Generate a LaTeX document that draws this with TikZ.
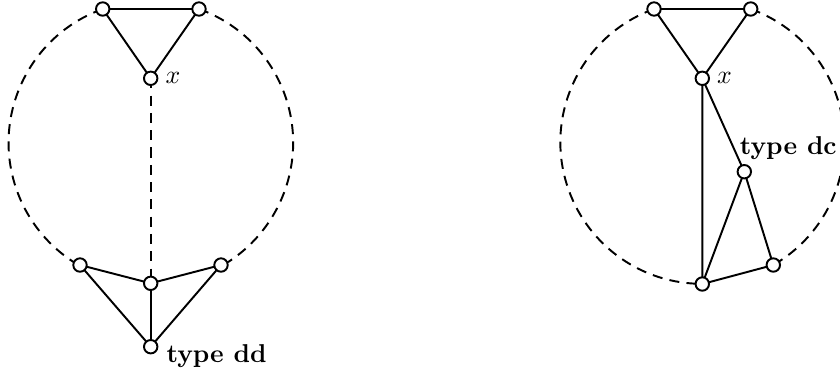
\documentclass[tikz,border=0pt]{standalone}
\begin{document}
\begin{tikzpicture}[x=0.3875pt,y=0.3875pt,
  vtx/.style={circle,draw,fill=white,line width=0.75pt,inner sep=0pt,minimum size=5.2pt},
  edge/.style={line width=0.75pt},
  dashedge/.style={line width=0.75pt,dash pattern=on 3.9pt off 2.8pt}]
\useasboundingbox (0,0) rectangle (840,-375);
% left figure
\coordinate (LC) at (150.8,-143);
\coordinate (la) at (102.7,-9);
\coordinate (lb) at (199,-9);
\coordinate (lx) at (150.7,-78.3);
\coordinate (ll) at (80,-265);
\coordinate (lr) at (221,-265);
\coordinate (lm) at (150.7,-283.3);
\coordinate (lbot) at (150.7,-346.7);
\draw[dashedge] (la) arc (109.7:239.9:142);
\draw[dashedge] (lb) arc (70.3:-60.1:142);
\draw[dashedge] (lx) -- (lm);
\draw[edge] (la) -- (lb) -- (lx) -- (la);
\draw[edge] (ll) -- (lm) -- (lr) -- (lbot) -- (ll);
\draw[edge] (lm) -- (lbot);
\foreach \n in {la,lb,lx,ll,lr,lm,lbot} \node[vtx] (v\n) at (\n) {};
\node[anchor=west,inner sep=0pt] (lxl) at (165,-78.3) {$x$};
\node[anchor=base west,inner sep=0pt] (ldd) at (166,-362) {\textbf{type dd}};
% right figure
\coordinate (ra) at (654,-9);
\coordinate (rb) at (750.7,-9);
\coordinate (rx) at (702.3,-78.3);
\coordinate (rbot) at (702.3,-284);
\coordinate (rr) at (773.3,-265);
\coordinate (rm) at (744.3,-171.7);
\draw[dashedge] (ra) arc (109.8:270:141.6);
\draw[dashedge] (rb) arc (70.2:-59.8:141.6);
\draw[edge] (ra) -- (rb) -- (rx) -- (ra);
\draw[edge] (rx) -- (rbot) -- (rr) -- (rm) -- (rbot);
\draw[edge] (rx) -- (rm);
\foreach \n in {ra,rb,rx,rbot,rr,rm} \node[vtx] (v\n) at (\n) {};
\node[anchor=west,inner sep=0pt] (rxl) at (716.5,-78.3) {$x$};
\node[anchor=base west,inner sep=0pt] (rdc) at (739.3,-154) {\textbf{type dc}};
\end{tikzpicture}
\end{document}
